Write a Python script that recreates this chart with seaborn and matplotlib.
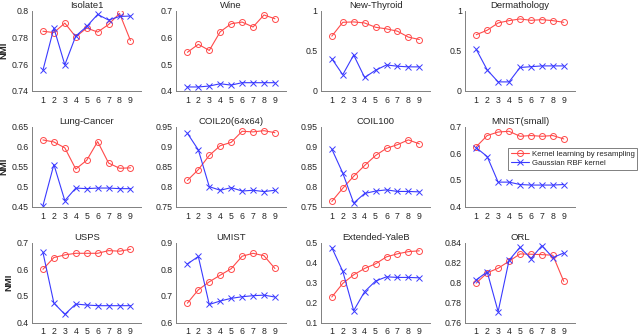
import numpy as np
import matplotlib
matplotlib.use("Agg")
import matplotlib.pyplot as plt
import seaborn as sns

sns.set_style("white")
plt.rcParams['font.family'] = ['Liberation Sans', 'DejaVu Sans']

x = [1, 2, 3, 4, 5, 6, 7, 8, 9]

titles = ["Isolate1", "Wine", "New-Thyroid", "Dermathology",
          "Lung-Cancer", "COIL20(64x64)", "COIL100", "MNIST(small)",
          "USPS", "UMIST", "Extended-YaleB", "ORL"]

# kernel learning by resampling (red)
resamp = [
    [0.7846, 0.7836, 0.7907, 0.7804, 0.787, 0.784, 0.7897, 0.798, 0.7776],
    [0.544, 0.574, 0.551, 0.621, 0.651, 0.6575, 0.639, 0.684, 0.67],
    [0.682, 0.855, 0.86, 0.847, 0.793, 0.773, 0.744, 0.67, 0.64],
    [0.70, 0.756, 0.847, 0.876, 0.897, 0.88, 0.888, 0.876, 0.855],
    [0.6168, 0.6118, 0.597, 0.544, 0.566, 0.6127, 0.559, 0.546, 0.547],
    [0.8156, 0.8426, 0.878, 0.9025, 0.9107, 0.9385, 0.937, 0.940, 0.935],
    [0.763, 0.796, 0.826, 0.853, 0.878, 0.896, 0.905, 0.917, 0.907],
    [0.6247, 0.6667, 0.680, 0.6827, 0.664, 0.6667, 0.664, 0.6667, 0.654],
    [0.60, 0.644, 0.654, 0.66, 0.66, 0.66, 0.67, 0.668, 0.675],
    [0.673, 0.723, 0.753, 0.778, 0.802, 0.849, 0.860, 0.851, 0.803],
    [0.228, 0.296, 0.339, 0.371, 0.394, 0.429, 0.444, 0.455, 0.459],
    [0.7995, 0.8098, 0.8144, 0.8214, 0.8287, 0.8284, 0.828, 0.8274, 0.8012],
]

# gaussian RBF kernel (blue)
rbf = [
    [0.7554, 0.787, 0.7594, 0.781, 0.7882, 0.7972, 0.793, 0.7957, 0.796],
    [0.414, 0.414, 0.4175, 0.426, 0.421, 0.43, 0.43, 0.43, 0.43],
    [0.40, 0.20, 0.446, 0.165, 0.256, 0.322, 0.306, 0.298, 0.298],
    [0.517, 0.26, 0.11, 0.11, 0.29, 0.30, 0.31, 0.31, 0.31],
    [0.4525, 0.5554, 0.465, 0.4965, 0.495, 0.4965, 0.4965, 0.495, 0.495],
    [0.9336, 0.892, 0.80, 0.791, 0.7975, 0.789, 0.791, 0.7877, 0.791],
    [0.894, 0.834, 0.759, 0.783, 0.789, 0.792, 0.788, 0.788, 0.787],
    [0.621, 0.588, 0.492, 0.492, 0.483, 0.481, 0.481, 0.481, 0.483],
    [0.663, 0.4734, 0.431, 0.4697, 0.466, 0.4635, 0.4635, 0.4635, 0.4635],
    [0.820, 0.848, 0.668, 0.681, 0.691, 0.697, 0.701, 0.703, 0.696],
    [0.475, 0.357, 0.160, 0.255, 0.308, 0.329, 0.326, 0.326, 0.324],
    [0.8028, 0.8108, 0.771, 0.8224, 0.8354, 0.824, 0.837, 0.825, 0.8297],
]

ylims = [(0.74, 0.8), (0.4, 0.7), (0, 1), (0, 1),
         (0.45, 0.65), (0.75, 0.95), (0.75, 0.95), (0.4, 0.7),
         (0.4, 0.7), (0.6, 0.9), (0.1, 0.5), (0.76, 0.84)]
yticks = [[0.74, 0.76, 0.78, 0.8], [0.4, 0.5, 0.6, 0.7], [0, 0.5, 1], [0, 0.5, 1],
          [0.45, 0.5, 0.55, 0.6, 0.65], [0.75, 0.8, 0.85, 0.9, 0.95],
          [0.75, 0.8, 0.85, 0.9, 0.95], [0.4, 0.5, 0.6, 0.7],
          [0.4, 0.5, 0.6, 0.7], [0.6, 0.7, 0.8, 0.9], [0.1, 0.2, 0.3, 0.4, 0.5],
          [0.76, 0.78, 0.8, 0.82, 0.84]]

red = "#ff4a4a"
blue = "#3a3aff"
gray = "#808080"

fig, axes = plt.subplots(3, 4, figsize=(6.4, 3.35), dpi=100)
fig.subplots_adjust(left=0.05, right=0.898, top=0.968, bottom=0.037,
                    wspace=0.32, hspace=0.45)

for i, ax in enumerate(axes.flat):
    sns.lineplot(x=x, y=resamp[i], ax=ax, color=red, lw=0.8, marker="o",
                 markersize=4.3, markerfacecolor="none", markeredgecolor=red,
                 markeredgewidth=0.7, label="Kernel learning by resampling")
    sns.lineplot(x=x, y=rbf[i], ax=ax, color=blue, lw=0.8, marker="x",
                 markersize=3.8, markeredgecolor=blue, markeredgewidth=0.7,
                 label="Gaussian RBF kernel")
    ax.set_xlim(0, 10)
    ax.set_ylim(*ylims[i])
    ax.set_xticks(x)
    ax.set_yticks(yticks[i])
    ax.set_yticklabels([("%g" % v) for v in yticks[i]])
    ax.set_title(titles[i], fontsize=6.8, pad=2)
    for s in ["top", "right"]:
        ax.spines[s].set_visible(False)
    for s in ["left", "bottom"]:
        ax.spines[s].set_color(gray)
        ax.spines[s].set_linewidth(0.7)
    ax.tick_params(labelsize=6.3, length=1.5, direction="in", color=gray,
                   labelcolor="#262626")
    ax.tick_params(axis="x", pad=3.5)
    ax.tick_params(axis="y", pad=2.5)
    ax.get_legend().remove()
    if i % 4 == 0:
        ax.set_ylabel("NMI", fontsize=6.8, fontweight="bold", labelpad=2)

handles, labels = axes.flat[0].get_legend_handles_labels()
leg = fig.legend(handles, labels, loc="upper right",
                 bbox_to_anchor=(637 / 640, 1 - 148 / 335), fontsize=5.6,
                 frameon=True, fancybox=False, edgecolor="#606060",
                 borderpad=0.3, labelspacing=0.25, handlelength=2.4,
                 handletextpad=0.3, borderaxespad=0)
leg.get_frame().set_linewidth(0.7)

fig.savefig("out.png", dpi=100)
